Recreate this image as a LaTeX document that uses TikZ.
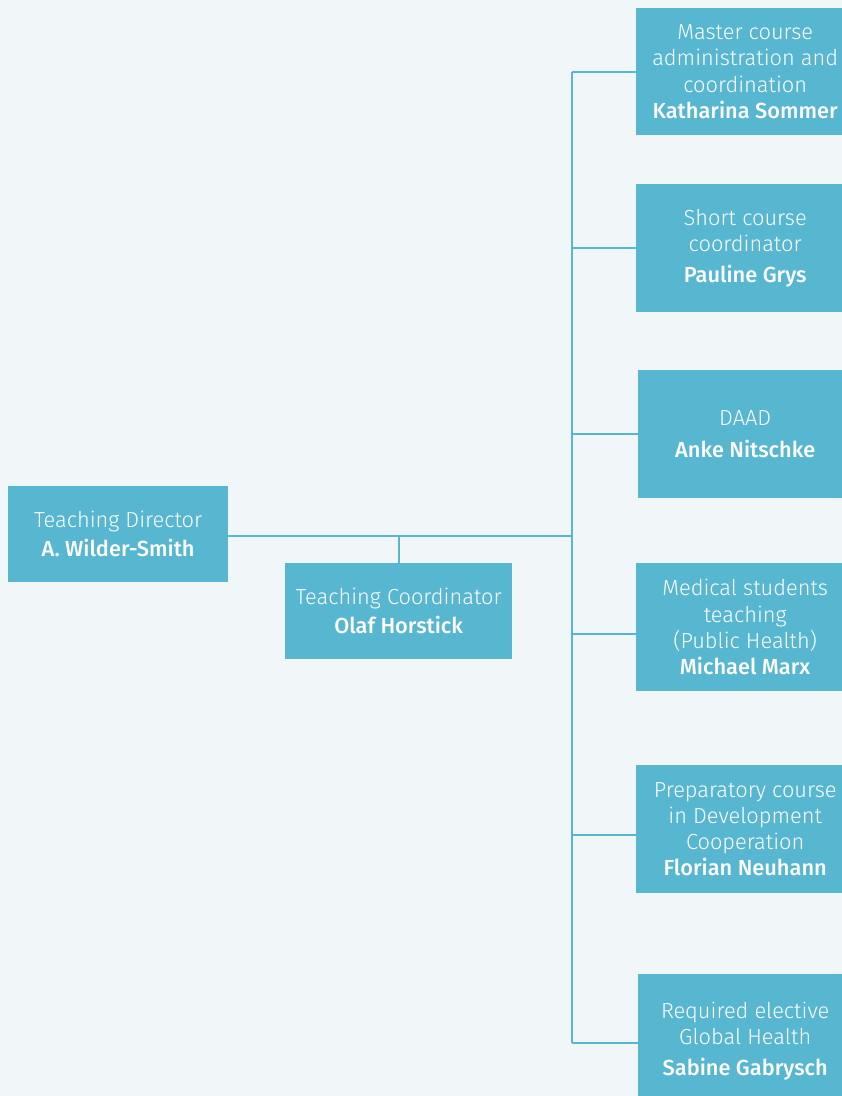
\documentclass[tikz,border=0pt]{standalone}
\usepackage{fontspec}
\setmainfont{Fira Sans Light}[BoldFont=Fira Sans Medium]
\definecolor{bgc}{HTML}{F1F6F9}
\definecolor{boxc}{HTML}{57B6D0}
\begin{document}
\begin{tikzpicture}[x=1pt,y=-1pt,
  box/.style={fill=boxc, draw=none, anchor=north west, inner sep=0pt, text=white,
    align=center, font=\fontsize{21.8}{26.3}\selectfont},
  nm/.style={},
  link/.style={draw=boxc, line width=2.8pt}]
\fill[bgc] (0,0) rectangle (842,1096);
\useasboundingbox (0,0) rectangle (842,1096);
\begin{scope}
\clip (0,0) rectangle (842,1096);
\node[box, minimum width=220pt, minimum height=96pt] (td) at (8,486)
  {Teaching Director\\[3pt] \textbf{A. Wilder-Smith}};
\node[box, minimum width=227pt, minimum height=96pt] (tc) at (285,563)
  {Teaching Coordinator\\[3pt] \textbf{Olaf Horstick}};
\node[box, minimum width=218pt, minimum height=127pt] (b1) at (636,8)
  {Master course\\administration and\\coordination\\\textbf{Katharina Sommer}};
\node[box, minimum width=218pt, minimum height=128pt] (b2) at (636,184)
  {Short course\\coordinator\\[5pt]\textbf{Pauline Grys}};
\node[box, minimum width=214pt, minimum height=128pt] (b3) at (638,370)
  {DAAD\\[5pt]\textbf{Anke Nitschke}};
\node[box, minimum width=218pt, minimum height=128pt] (b4) at (636,563)
  {Medical students\\teaching\\(Public Health)\\\textbf{Michael Marx}};
\node[box, minimum width=218pt, minimum height=128pt] (b5) at (636,765)
  {Preparatory course\\in Development\\Cooperation\\\textbf{Florian Neuhann}};
\node[box, minimum width=214pt, minimum height=134pt] (b6) at (638,974)
  {Required elective\\Global Health\\[5pt]\textbf{Sabine Gabrysch}};
\end{scope}
\coordinate (ttop) at (572,72);
\coordinate (tbot) at (572,1043);
\coordinate (tmid) at (572,536);
\coordinate (tcup) at (399,536);
\draw[link] (ttop) -- (tbot);
\draw[link] (td.east |- tmid) -- (tmid);
\draw[link] (tcup) -- (tc.north -| tcup);
\draw[link] (ttop) -- (ttop -| b1.west);
\draw[link] (572,248) coordinate (c2) -- (c2 -| b2.west);
\draw[link] (572,434) coordinate (c3) -- (c3 -| b3.west);
\draw[link] (572,634) coordinate (c4) -- (c4 -| b4.west);
\draw[link] (572,835) coordinate (c5) -- (c5 -| b5.west);
\draw[link] (tbot) -- (tbot -| b6.west);
\end{tikzpicture}
\end{document}
